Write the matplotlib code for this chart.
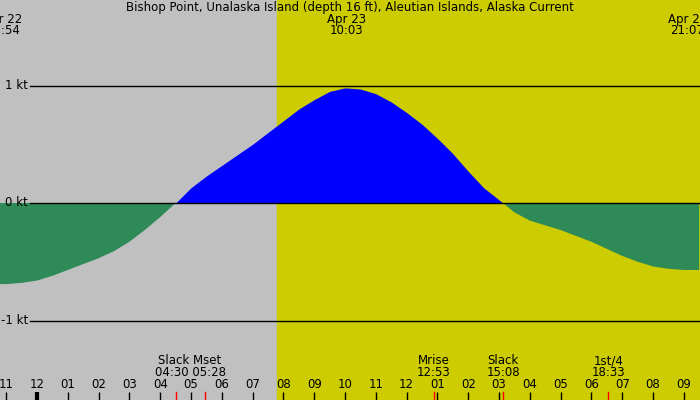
import matplotlib
matplotlib.use("Agg")
import matplotlib.pyplot as plt
import numpy as np

# hours relative to Apr 23 00:00
hours = [-1.2, -1, -0.5, 0, 0.5, 1, 1.5, 2, 2.5, 3, 3.5, 4, 4.5, 5, 5.5, 6, 6.5, 7, 7.5, 8, 8.5, 9, 9.5,
         10, 10.5, 11, 11.5, 12, 12.5, 13, 13.5, 14, 14.5, 15.13, 15.5, 16, 16.5, 17, 17.5, 18, 18.5,
         19, 19.5, 20, 20.5, 21, 21.5]
speed = [-0.69, -0.69, -0.68, -0.66, -0.62, -0.57, -0.52, -0.47, -0.41, -0.33, -0.23, -0.12, 0.0, 0.13,
         0.23, 0.32, 0.41, 0.50, 0.60, 0.70, 0.80, 0.88, 0.95, 0.98, 0.97, 0.93, 0.86, 0.77, 0.67, 0.55,
         0.42, 0.27, 0.13, 0.0, -0.08, -0.15, -0.19, -0.23, -0.28, -0.33, -0.39, -0.45, -0.50, -0.54,
         -0.56, -0.57, -0.57]
tick_hours = list(range(-1, 22))
tick_labels = ["11", "12"] + ["%02d" % h for h in range(1, 13)] + ["%02d" % h for h in range(1, 10)]
sunrise = 7.78
events = [("Slack", 4.5, "04:30"), ("Mset", 5.47, "05:28"), ("Mrise", 12.88, "12:53"),
          ("Slack", 15.13, "15:08"), ("1st/4", 18.55, "18:33")]
peaks = [("Apr 22", -1.1, "22:54"), ("Apr 23", 10.05, "10:03"), ("Apr 23", 21.12, "21:07")]

px = 30.8
x0 = -37 / px
x1 = x0 + 700 / px
ytop, ybot = 203 / 117.5, -197 / 117.5

fig = plt.figure(figsize=(7, 4), dpi=100)
ax = fig.add_axes([0, 0, 1, 1])
ax.set_xlim(x0, x1)
ax.set_ylim(ybot, ytop)
ax.axis("off")
ax.axvspan(x0, sunrise, color="#c0c0c0", zorder=0)
ax.axvspan(sunrise, x1, color="#cccc00", zorder=0)

h = np.array(hours); s = np.array(speed)
ax.fill_between(h, 0, s, where=s >= 0, color="#0000ff", interpolate=True, lw=0, zorder=1)
ax.fill_between(h, 0, s, where=s <= 0, color="#2e8b57", interpolate=True, lw=0, zorder=1)

kpx = 1 / 117.5
for v, lab in [(1, "1 kt"), (0, "0 kt"), (-1, "-1 kt")]:
    ax.plot([30 / px + x0, x1], [v, v], color="black", lw=1, zorder=2)
    ax.text(28 / px + x0, v, lab, ha="right", va="center", fontsize=8.5)

fs = 8.5
for th, tl in zip(tick_hours, tick_labels):
    ax.text(th, ybot + 15 * kpx, tl, ha="center", va="center", fontsize=fs)
    lw = 3 if tl == "12" and th == 0 else 1
    ax.plot([th, th], [ybot, ybot + 8 * kpx], color="black", lw=lw, solid_capstyle="butt")

ax.text(events[1][1] - 0.5, ybot + 39 * kpx, "Slack Mset", ha="center", va="center", fontsize=fs)
ax.text(events[1][1] - 0.5, ybot + 27 * kpx, "04:30 05:28", ha="center", va="center", fontsize=fs)
for name, t, lab in events[2:]:
    ax.text(t, ybot + 39 * kpx, name, ha="center", va="center", fontsize=fs)
    ax.text(t, ybot + 27 * kpx, lab, ha="center", va="center", fontsize=fs)
for name, t, lab in events:
    ax.plot([t, t], [ybot, ybot + 8 * kpx], color="red", lw=1)

for d, t, lab in peaks:
    ax.text(t, ytop - 19 * kpx, d, ha="center", va="center", fontsize=fs)
    ax.text(t, ytop - 31 * kpx, lab, ha="center", va="center", fontsize=fs)

ax.text((x0 + x1) / 2, ytop - 7 * kpx,
        "Bishop Point, Unalaska Island (depth 16 ft), Aleutian Islands, Alaska Current",
        ha="center", va="center", fontsize=fs)
fig.savefig("out.png", dpi=100)
